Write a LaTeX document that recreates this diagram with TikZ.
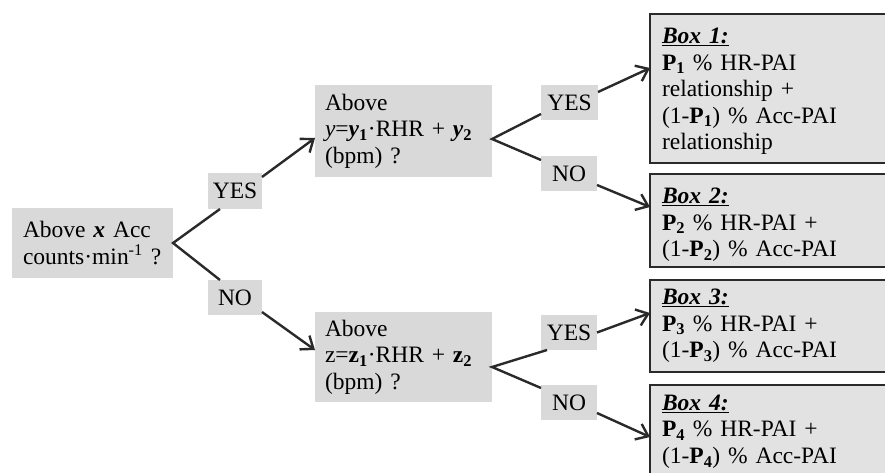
\documentclass[tikz,border=0pt]{standalone}
\usepackage{fontspec}
\setmainfont{Liberation Serif}
\usetikzlibrary{arrows.meta}
\definecolor{qgray}{HTML}{D9D9D9}
\definecolor{bgray}{HTML}{E2E2E2}
\definecolor{ink}{HTML}{2A2A2A}
\tikzset{
  base/.style={font=\fontsize{23.5}{26.5}\selectfont, text=black, inner sep=0pt, outer sep=0pt, anchor=north west},
  question/.style={base, fill=qgray, align=left, inner xsep=10pt},
  answer/.style={base, fill=qgray, align=center},
  resultbox/.style={base, fill=bgray, draw=ink, line width=1.8pt, minimum width=250pt},
  resulttext/.style={base, align=left, text width=226pt},
  link/.style={draw=ink, line width=2.4pt},
  arrow/.style={link, -{Straight Barb[length=11pt, width=17pt, line width=2.4pt]}},
}
\newcommand{\boxtitle}[1]{\underline{\textbf{\textit{#1}}}}
\begin{document}
\begin{tikzpicture}[x=1pt,y=-1pt]
\useasboundingbox (0,0) rectangle (885,472);
\clip (0,0) rectangle (885,472);

% questions
\node[question, inner xsep=11pt, text width=139pt, minimum height=70pt] (A) at (12,208)
  {Above \textbf{\textit{x}} Acc\\counts·min\textsuperscript{-1} ?};
\node[question, text width=157pt, minimum height=92pt] (B) at (315,85)
  {Above\\\textit{y}=\textbf{\textit{y}}\textsubscript{\textbf{1}}·RHR + \textbf{\textit{y}}\textsubscript{\textbf{2}}\\(bpm) ?};
\node[question, text width=157pt, minimum height=90pt] (C) at (315,312)
  {Above\\z=\textbf{z}\textsubscript{\textbf{1}}·RHR + \textbf{z}\textsubscript{\textbf{2}}\\(bpm) ?};

% answers
\node[answer, minimum width=54pt, minimum height=36pt] (yes1) at (208,173) {YES};
\node[answer, minimum width=54pt, minimum height=35pt] (no1) at (208,280) {NO};
\node[answer, minimum width=57pt, minimum height=35pt] (yes2) at (541,85) {YES};
\node[answer, minimum width=56pt, minimum height=35pt] (no2) at (541,156) {NO};
\node[answer, minimum width=56pt, minimum height=35pt] (yes3) at (541,315) {YES};
\node[answer, minimum width=56pt, minimum height=35pt] (no3) at (541,385) {NO};

% results
\node[resultbox, minimum height=149pt] (box1) at (650,14) {};
\node[resultbox, minimum height=93pt] (box2) at (650,174) {};
\node[resultbox, minimum height=92pt] (box3) at (650,280) {};
\node[resultbox, minimum height=92pt] (box4) at (650,385) {};

\node[resulttext] (t1) at ([xshift=12pt,yshift=-14pt]box1.north west)
  {\boxtitle{Box 1:}\\\textbf{P\textsubscript{1}} \% HR-PAI\\relationship +\\(1-\textbf{P\textsubscript{1}}) \% Acc-PAI\\relationship};
\node[resulttext] (t2) at ([xshift=12pt,yshift=-14pt]box2.north west)
  {\boxtitle{Box 2:}\\\textbf{P\textsubscript{2}} \% HR-PAI +\\(1-\textbf{P\textsubscript{2}}) \% Acc-PAI};
\node[resulttext] (t3) at ([xshift=12pt,yshift=-9pt]box3.north west)
  {\boxtitle{Box 3:}\\\textbf{P\textsubscript{3}} \% HR-PAI +\\(1-\textbf{P\textsubscript{3}}) \% Acc-PAI};
\node[resulttext] (t4) at ([xshift=12pt,yshift=-10pt]box4.north west)
  {\boxtitle{Box 4:}\\\textbf{P\textsubscript{4}} \% HR-PAI +\\(1-\textbf{P\textsubscript{4}}) \% Acc-PAI};

% branches
\draw[link] ([xshift=12pt]yes1.south west) -- (A.east) -- ([xshift=12pt]no1.north west);
\draw[link] ([yshift=6pt]yes2.south west) -- ([yshift=-8pt]B.east) -- ([yshift=-4pt]no2.north west);
\draw[link] ([xshift=6pt]yes3.south west) -- ([yshift=-10pt]C.east) -- ([yshift=-3pt]no3.north west);

% arrows
\draw[arrow] ([yshift=-4pt]yes1.north east) -- ([yshift=-7pt]B.west);
\draw[arrow] ([yshift=3pt]no1.south east) -- ([yshift=7pt]C.west);
\draw[arrow] ([yshift=-7pt]yes2.north east) -- ([yshift=-54pt]box1.north west);
\draw[arrow] ([yshift=6pt]no2.south east) -- ([yshift=-33pt]box2.north west);
\draw[arrow] (yes3.east) -- ([yshift=-33pt]box3.north west);
\draw[arrow] ([yshift=7pt]no3.south east) -- ([yshift=-52pt]box4.north west);
\end{tikzpicture}
\end{document}
